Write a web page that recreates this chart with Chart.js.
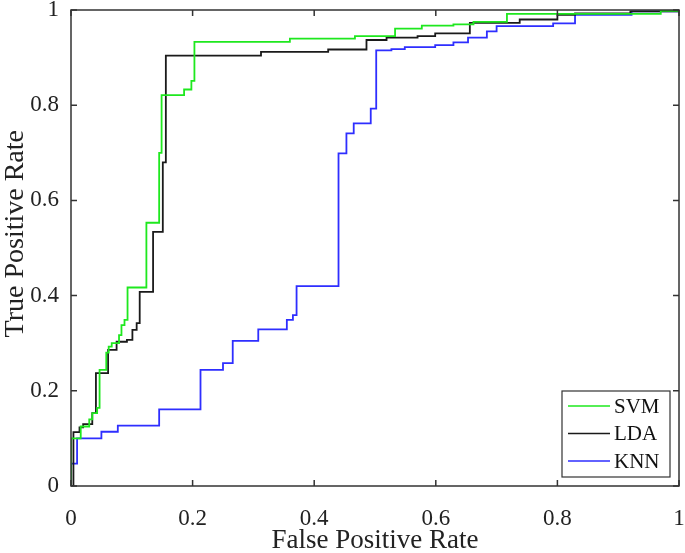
<!DOCTYPE html>
<html>
<head>
<meta charset="utf-8">
<script src="https://cdn.jsdelivr.net/npm/chart.js@4/dist/chart.umd.min.js"></script>
<style>
  html, body { margin: 0; padding: 0; background: #fff; }
  #wrap { width: 685px; height: 553px; }
</style>
</head>
<body>
<div id="wrap"><canvas id="roc"></canvas></div>
<script>
// ROC points: each pair is [FPR where the next rise happens, TPR level]
const svmFpr = [0, 0.016, 0.03, 0.035, 0.043, 0.047, 0.058, 0.062, 0.067, 0.079, 0.083, 0.088, 0.093, 0.124, 0.145, 0.149, 0.186, 0.198, 0.203, 0.36, 0.467, 0.533, 0.577, 0.629, 0.662, 0.717, 0.97, 1, 1];
const svmTpr = [0, 0.10, 0.125, 0.14, 0.153, 0.164, 0.244, 0.28, 0.293, 0.30, 0.317, 0.338, 0.349, 0.417, 0.553, 0.70, 0.821, 0.833, 0.851, 0.933, 0.94, 0.945, 0.961, 0.967, 0.97, 0.975, 0.992, 0.998, 1];

const ldaFpr = [0, 0.004, 0.014, 0.02, 0.035, 0.041, 0.061, 0.075, 0.092, 0.101, 0.108, 0.113, 0.135, 0.151, 0.156, 0.3125, 0.423, 0.486, 0.519, 0.57, 0.599, 0.656, 0.738, 0.80, 0.829, 0.92, 1, 1];
const ldaTpr = [0, 0, 0.113, 0.123, 0.13, 0.153, 0.237, 0.286, 0.303, 0.307, 0.328, 0.342, 0.408, 0.534, 0.68, 0.904, 0.912, 0.917, 0.937, 0.942, 0.945, 0.951, 0.973, 0.98, 0.99, 0.993, 0.997, 1];

const knnFpr = [0, 0.01, 0.05, 0.077, 0.145, 0.213, 0.25, 0.266, 0.308, 0.355, 0.365, 0.371, 0.44, 0.453, 0.465, 0.493, 0.502, 0.527, 0.549, 0.599, 0.629, 0.653, 0.684, 0.70, 0.793, 0.829, 0.922, 1, 1];
const knnTpr = [0, 0.047, 0.10, 0.114, 0.127, 0.161, 0.244, 0.258, 0.305, 0.329, 0.349, 0.359, 0.42, 0.699, 0.741, 0.762, 0.793, 0.915, 0.918, 0.922, 0.926, 0.932, 0.942, 0.955, 0.966, 0.972, 0.99, 0.997, 1];

const tickValues = [0, 0.2, 0.4, 0.6, 0.8, 1];
const seriesNames = ['SVM', 'LDA', 'KNN'];
const seriesColors = ['#1ee81e', '#1a1a1a', '#2e2eff'];
const yTitle = 'True Positive Rate';

const axisColor = '#333333';
const serif = "'Liberation Serif', 'DejaVu Serif', serif";

function toPoints(xs, ys) {
    return xs.map((x, i) => ({ x: x, y: ys[i] }));
}

// box, inward ticks on all four sides, y title and the boxed legend (MATLAB look)
const matlabFrame = {
    id: 'matlabFrame',
    afterDatasetsDraw(chart) {
        const ctx = chart.ctx;
        const a = chart.chartArea;
        const xs = chart.scales.x, ys = chart.scales.y;
        ctx.save();
        ctx.strokeStyle = axisColor;
        ctx.lineWidth = 1.5;
        ctx.strokeRect(a.left, a.top, a.right - a.left, a.bottom - a.top);
        ctx.beginPath();
        tickValues.forEach(v => {
            const px = xs.getPixelForValue(v);
            ctx.moveTo(px, a.bottom); ctx.lineTo(px, a.bottom - 6);
            ctx.moveTo(px, a.top); ctx.lineTo(px, a.top + 6);
            const py = ys.getPixelForValue(v);
            ctx.moveTo(a.left, py); ctx.lineTo(a.left + 6, py);
            ctx.moveTo(a.right, py); ctx.lineTo(a.right - 6, py);
        });
        ctx.stroke();

        // y title, sits a little above the axis middle like the original
        ctx.save();
        ctx.translate(16, ys.getPixelForValue(0.53));
        ctx.rotate(-Math.PI / 2);
        ctx.font = '28px ' + serif;
        ctx.fillStyle = '#222';
        ctx.textAlign = 'center';
        ctx.textBaseline = 'middle';
        ctx.fillText(yTitle, 0, 0);
        ctx.restore();

        // legend
        const w = 108, h = 86;
        const lx = a.right - 9 - w, ly = a.bottom - 9 - h;
        ctx.fillStyle = '#fff';
        ctx.fillRect(lx, ly, w, h);
        ctx.lineWidth = 1.2;
        ctx.strokeRect(lx, ly, w, h);
        ctx.font = '21px ' + serif;
        ctx.textBaseline = 'middle';
        chart.data.datasets.forEach((ds, i) => {
            const ry = ly + 15 + i * 27.5;
            ctx.strokeStyle = ds.borderColor;
            ctx.lineWidth = 1.5;
            ctx.beginPath();
            ctx.moveTo(lx + 6, ry); ctx.lineTo(lx + 48, ry);
            ctx.stroke();
            ctx.fillStyle = '#111';
            ctx.fillText(ds.label, lx + 52, ry + 1);
        });
        ctx.restore();
    }
};

const ctx = document.getElementById('roc').getContext('2d');
new Chart(ctx, {
    type: 'line',
    data: {
        datasets: [
            { label: seriesNames[0], data: toPoints(svmFpr, svmTpr), borderColor: seriesColors[0] },
            { label: seriesNames[1], data: toPoints(ldaFpr, ldaTpr), borderColor: seriesColors[1] },
            { label: seriesNames[2], data: toPoints(knnFpr, knnTpr), borderColor: seriesColors[2] },
        ].map(ds => Object.assign(ds, {
            stepped: 'after',
            borderWidth: 1.8,
            pointRadius: 0,
            fill: false,
        })),
    },
    options: {
        responsive: true,
        maintainAspectRatio: false,
        animation: false,
        layout: { padding: { top: 10, right: 6, left: 0, bottom: 0 } },
        plugins: {
            legend: { display: false },
            tooltip: { enabled: false },
        },
        scales: {
            x: {
                type: 'linear',
                min: 0,
                max: 1,
                afterBuildTicks: s => { s.ticks = tickValues.map(v => ({ value: v })); },
                afterFit: s => { s.height = 67; s.paddingLeft = 0; s.paddingRight = 0; },
                grid: { display: false },
                border: { display: false },
                ticks: {
                    color: '#222',
                    font: { family: serif, size: 23 },
                    padding: 11,
                    maxRotation: 0,
                    callback: v => String(v),
                },
                title: {
                    display: true,
                    text: 'False Positive Rate',
                    color: '#222',
                    font: { family: serif, size: 27 },
                    padding: { top: 0, bottom: -4 },
                },
            },
            y: {
                type: 'linear',
                min: 0,
                max: 1,
                afterBuildTicks: s => { s.ticks = tickValues.map(v => ({ value: v })); },
                afterFit: s => { s.width = 71; s.paddingTop = 0; s.paddingBottom = 0; },
                grid: { display: false },
                border: { display: false },
                ticks: {
                    color: '#222',
                    font: { family: serif, size: 23 },
                    padding: 4,
                    callback: v => String(v),
                },
            },
        },
    },
    plugins: [matlabFrame],
});
</script>
</body>
</html>
